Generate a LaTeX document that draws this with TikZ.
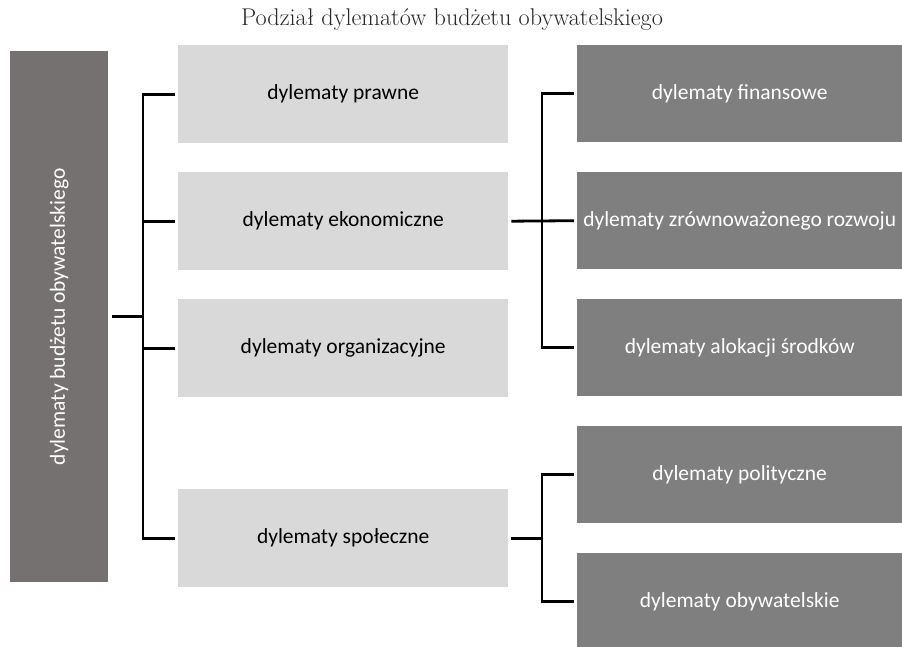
\documentclass[tikz,border=0pt]{standalone}
\usepackage{fontspec}
\usepackage{xcolor}
\usepackage{tikz}
\usetikzlibrary{positioning}
\newfontfamily\carlito{Carlito}
\definecolor{rootgray}{HTML}{767171}
\definecolor{midgray}{HTML}{D9D9D9}
\definecolor{leafgray}{HTML}{7F7F7F}
\definecolor{titlegray}{HTML}{262626}

\begin{document}
\begin{tikzpicture}[
    x=1pt, y=-1pt,
    font=\carlito\fontsize{21.5}{25}\selectfont,
    box/.style={anchor=north west, inner sep=0pt, align=center,
                minimum height=98pt},
    root/.style={box, fill=rootgray, minimum width=98pt, minimum height=531pt},
    mid/.style={box, fill=midgray, text=black, minimum width=330pt},
    leaf/.style={box, fill=leafgray, text=white, minimum width=325pt, minimum height=97pt},
    link/.style={line width=2.8pt, line join=miter}]
    \useasboundingbox (0,0) rectangle (902,647);
    \node[font=\fontsize{24.2}{28}\selectfont, text=titlegray] (title) at (452,20)
        {Podział dylematów budżetu obywatelskiego};
    \node[root] (root) at (10,51) {};
    \node[text=white, rotate=90] (rootlbl) at (root.center)
        {dylematy budżetu obywatelskiego};
    \node[mid] (prawne) at (178,45) {dylematy prawne};
    \node[mid] (ekon) at (178,172) {dylematy ekonomiczne};
    \node[mid] (org) at (178,299) {dylematy organizacyjne};
    \node[mid] (spol) at (178,489) {dylematy społeczne};
    \node[leaf] (fin) at (577,45) {dylematy finansowe};
    \node[leaf] (zrow) at (577,172) {dylematy zrównoważonego rozwoju};
    \node[leaf] (alok) at (577,299) {dylematy alokacji środków};
    \node[leaf] (pol) at (577,426) {dylematy polityczne};
    \node[leaf] (obyw) at (577,553) {dylematy obywatelskie};
    % trunk positions
    \coordinate (tl) at (143,0);
    \coordinate (tr) at (542,0);
    % root -> second level
    \draw[link] ([xshift=-3pt]prawne.west) -- (prawne.west -| tl)
          -- (spol.west -| tl) -- ([xshift=-3pt]spol.west);
    \draw[link] ([xshift=4pt]root.east) -- (root.east -| tl);
    \draw[link] (ekon.west -| tl) -- ([xshift=-3pt]ekon.west);
    \draw[link] (org.west -| tl) -- ([xshift=-3pt]org.west);
    % economic dilemmas
    \draw[link] ([xshift=-3pt]fin.west) -- (fin.west -| tr)
          -- (alok.west -| tr) -- ([xshift=-3pt]alok.west);
    \draw[link] ([xshift=3pt]ekon.east) -- ([xshift=-3pt]zrow.west);
    % social dilemmas
    \draw[link] ([xshift=-3pt]pol.west) -- (pol.west -| tr)
          -- (obyw.west -| tr) -- ([xshift=-3pt]obyw.west);
    \draw[link] ([xshift=3pt]spol.east) -- (spol.east -| tr);
\end{tikzpicture}
\end{document}
